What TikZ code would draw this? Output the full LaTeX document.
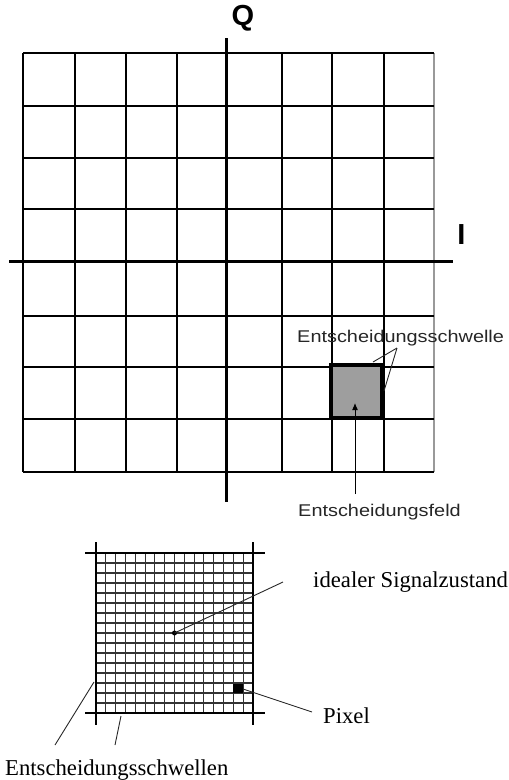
\documentclass[tikz,border=0pt]{standalone}
\usetikzlibrary{arrows.meta}
\usepackage{fontspec}
\setmainfont{Liberation Serif}
\setsansfont{Liberation Sans}
\begin{document}
\begin{tikzpicture}[x=1pt,y=-1pt,
  gridline/.style={black, line width=1.8pt},
  axisline/.style={black, line width=3pt},
  fineline/.style={black!80, line width=1.1pt},
  leader/.style={black!85, line width=0.9pt},
  sanslabel/.style={font=\sffamily\fontsize{17}{17}\selectfont, text=black!85, xscale=1.17, inner sep=0pt, anchor=base west},
  seriflabel/.style={font=\fontsize{22.7}{23}\selectfont, inner sep=0pt, anchor=base west},
  axislabel/.style={font=\sffamily\bfseries\fontsize{29}{29}\selectfont, inner sep=0pt}]
\useasboundingbox (0,0) rectangle (509,780);
% ---------- top grid ----------
\foreach \x in {23,75,126,177,282,332,384}
  \draw[gridline] (\x,53) -- (\x,472);
\draw[black!40, line width=1.8pt] (434,53) -- (434,472);
\foreach \y in {53,106,158,209,316,367,419,472}
  \draw[gridline] (23,\y) -- (434,\y);
% decision field
\node[draw=black, line width=3.8pt, fill=black!38, minimum width=51pt, minimum height=53pt, inner sep=0pt] (feld) at (356.5,391.5) {};
% axes
\coordinate (iL) at (9,261);
\coordinate (iR) at (453,261);
\coordinate (qT) at (226,38);
\coordinate (qB) at (226,502);
\draw[axisline] (iL) -- (iR);
\draw[axisline] (qT) -- (qB);
\node[axislabel] (Q) at (243,18) {Q};
\node[axislabel] (I) at (461.5,235) {I};
% labels
\node[sanslabel] (schwelle) at (297,342) {Entscheidungsschwelle};
\node[sanslabel] (feldlab) at (298,516) {Entscheidungsfeld};
\coordinate (apex) at (397,348);
\coordinate (topedge) at (373,362);
\coordinate (rightedge) at (384,391);
\draw[leader] (apex) -- (topedge);
\draw[leader] (apex) -- (rightedge);
\coordinate (arrStart) at (355,494);
\coordinate (arrTip) at (355,403);
\draw[black, line width=1pt, -{Latex[length=7pt,width=6pt]}] (arrStart) -- (arrTip);
% ---------- bottom fine grid ----------
\foreach \i in {1,...,15}{
  \draw[fineline] ({96+\i*9.8125},553) -- ({96+\i*9.8125},713);
  \draw[fineline] (96,{553+\i*10}) -- (253,{553+\i*10});
}
\draw[axisline, line width=2.6pt] (96,542) -- (96,725);
\draw[axisline, line width=2.6pt] (253,542) -- (253,725);
\draw[axisline, line width=2.6pt] (85,553) -- (265,553);
\draw[axisline, line width=2.6pt] (85,713) -- (265,713);
\fill[black] (233.4,683.5) rectangle (243.2,693);
\coordinate (pix) at (243,689);
\fill[black] (174.5,633) circle (2.5pt);
\coordinate (dot) at (174.5,633);
\node[seriflabel] (ideal) at (313,587) {idealer Signalzustand};
\node[seriflabel] (pixel) at (323,723) {Pixel};
\node[seriflabel] (schwellen) at (5,775) {Entscheidungsschwellen};
\coordinate (idealEnd) at (283,582);
\coordinate (pixEnd) at (312,712);
\draw[leader] (dot) -- (idealEnd);
\draw[leader] (pix) -- (pixEnd);
\coordinate (s1a) at (94,682);
\coordinate (s1b) at (55,745);
\coordinate (s2a) at (121,716);
\coordinate (s2b) at (115,745);
\draw[leader] (s1a) -- (s1b);
\draw[leader] (s2a) -- (s2b);
\end{tikzpicture}
\end{document}
